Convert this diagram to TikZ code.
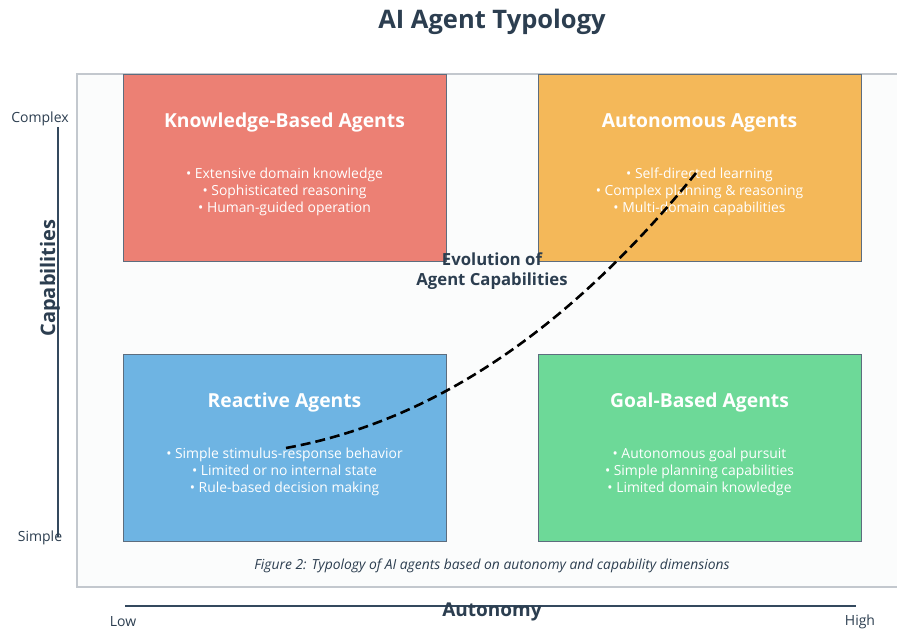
\documentclass[tikz,border=0pt]{standalone}
\usepackage{fontspec}
\setmainfont{Open Sans}
\usetikzlibrary{positioning}

\definecolor{inkdark}{HTML}{2C3E50}
\definecolor{axisdark}{HTML}{34495E}
\definecolor{framegray}{HTML}{C3C8CE}
\definecolor{panelbg}{HTML}{FBFCFC}
\definecolor{kbred}{HTML}{EC8074}
\definecolor{autoorange}{HTML}{F4B859}
\definecolor{reactblue}{HTML}{6EB4E3}
\definecolor{goalgreen}{HTML}{6DD998}
\definecolor{boxedge}{HTML}{5D6D7E}

\begin{document}
\begin{tikzpicture}[x=1pt,y=-1pt,
    quadrant/.style={draw=boxedge,line width=0.9pt,minimum width=323pt,minimum height=187pt,inner sep=0pt},
    boxtitle/.style={text=white,font=\fontsize{19.3}{23}\selectfont\bfseries},
    bullets/.style={text=white,align=center,font=\fontsize{13.9}{17}\selectfont},
    axislabel/.style={text=inkdark,font=\fontsize{14}{17}\selectfont}]
        \useasboundingbox (0,0) rectangle (897,631);
        \clip (0,0) rectangle (897,631);
        \fill[white] (0,0) rectangle (897,631);
        % panel
        \draw[framegray,fill=panelbg,line width=2.5pt] (77,74) rectangle (910,587);
        \node[text=inkdark,font=\fontsize{25.5}{30}\selectfont\bfseries] (title) at (492,22) {AI Agent Typology};
        % quadrants
        \node[quadrant,fill=kbred] (kb) at (284.5,167.5) {};
        \node[quadrant,fill=autoorange] (auto) at (699.5,167.5) {};
        \node[quadrant,fill=reactblue] (react) at (284.5,447.5) {};
        \node[quadrant,fill=goalgreen] (goal) at (699.5,447.5) {};
        \node[boxtitle] (kb-title) at ([yshift=-49pt]kb.north) {Knowledge-Based Agents};
        \node[bullets] (kb-list) at ([yshift=-24.5pt]kb.center) {• Extensive domain knowledge\\• Sophisticated reasoning\\• Human-guided operation};
        \node[boxtitle] (auto-title) at ([yshift=-49pt]auto.north) {Autonomous Agents};
        \node[bullets] (auto-list) at ([yshift=-24.5pt]auto.center) {• Self-directed learning\\• Complex planning \& reasoning\\• Multi-domain capabilities};
        \node[boxtitle] (react-title) at ([yshift=-49pt]react.north) {Reactive Agents};
        \node[bullets] (react-list) at ([yshift=-24.5pt]react.center) {• Simple stimulus-response behavior\\• Limited or no internal state\\• Rule-based decision making};
        \node[boxtitle] (goal-title) at ([yshift=-49pt]goal.north) {Goal-Based Agents};
        \node[bullets] (goal-list) at ([yshift=-24.5pt]goal.center) {• Autonomous goal pursuit\\• Simple planning capabilities\\• Limited domain knowledge};
        % evolution curve
        \coordinate (evo-start) at (286,448);
        \coordinate (evo-end) at (696,173);
        \draw[black,line width=2.6pt,dash pattern=on 10pt off 5pt] (evo-start) .. controls (440,420) and (575,322) .. (evo-end);
        \node[text=inkdark,align=center,font=\fontsize{16.7}{20}\selectfont\bfseries] (evo-label) at (492,271) {Evolution of\\Agent Capabilities};
        \node[text=inkdark,font=\fontsize{13.85}{17}\selectfont\itshape] (caption) at (492,566) {Figure 2: Typology of AI agents based on autonomy and capability dimensions};
        % axes
        \coordinate (y-top) at (58,127);
        \coordinate (y-bot) at (58,537);
        \draw[axisdark,line width=2pt] (y-top) -- (y-bot);
        \node[axislabel] (complex) at (40,119) {Complex};
        \node[axislabel] (simple) at (40,538) {Simple};
        \node[text=inkdark,rotate=90,font=\fontsize{20}{24}\selectfont\bfseries] (cap-label) at (50,278) {Capabilities};
        \coordinate (x-left) at (125,606);
        \coordinate (x-right) at (856,606);
        \draw[axisdark,line width=2pt] (x-left) -- (x-right);
        \node[axislabel] (low) at (123,622) {Low};
        \node[axislabel] (high) at (860,622) {High};
        \node[text=inkdark,font=\fontsize{19}{23}\selectfont\bfseries] (aut-label) at (492,612) {Autonomy};
      \end{tikzpicture}
\end{document}
